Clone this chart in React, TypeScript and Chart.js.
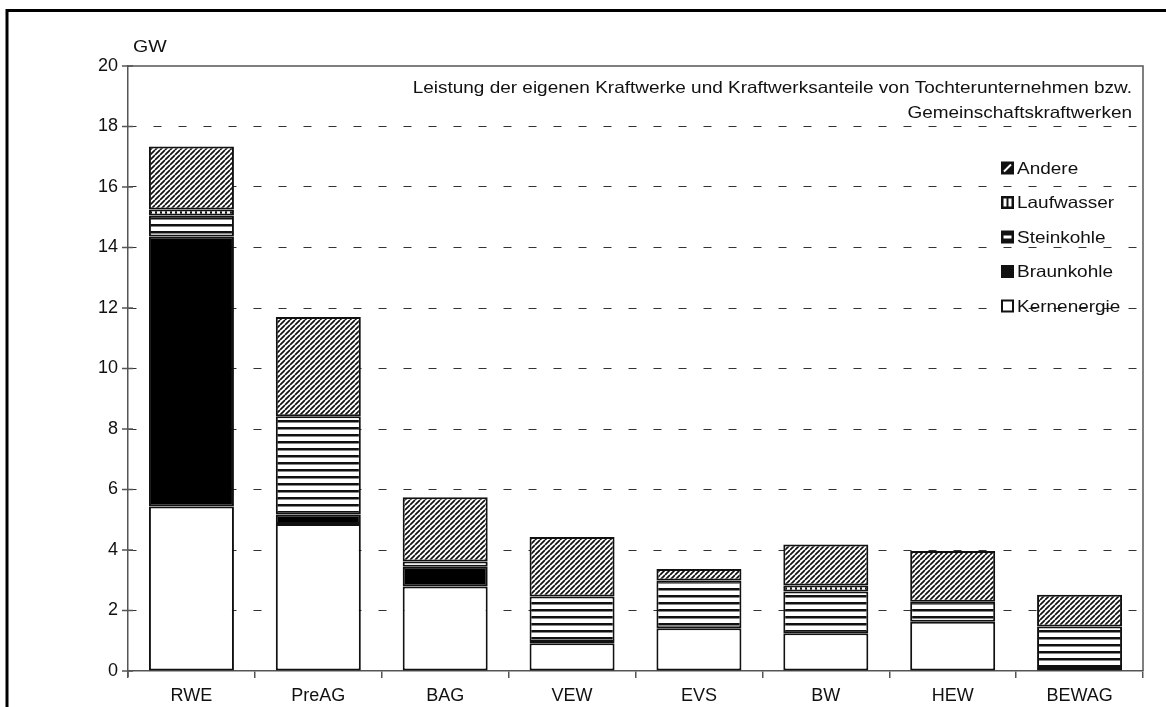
import React, { useEffect, useRef } from "react";
import { Chart, registerables } from "chart.js";

Chart.register(...registerables);

const categories = ["RWE", "PreAG", "BAG", "VEW", "EVS", "BW", "HEW", "BEWAG"];
const kernenergie = [5.44, 4.86, 2.79, 0.92, 1.41, 1.25, 1.63, 0];
const braunkohle = [8.92, 0.31, 0.66, 0.04, 0, 0, 0, 0.13];
const steinkohle = [0.7, 3.25, 0.17, 1.5, 1.58, 1.38, 0.66, 1.34];
const laufwasser = [0.2, 0, 0, 0, 0, 0.2, 0, 0];
const andere = [2.08, 3.28, 2.12, 1.97, 0.38, 1.35, 1.68, 1.05];
const yTickValues = [0, 2, 4, 6, 8, 10, 12, 14, 16, 18, 20];
const legendOrder = ["Andere", "Laufwasser", "Steinkohle", "Braunkohle", "Kernenergie"];
const titleLines = [
  "Leistung der eigenen Kraftwerke und Kraftwerksanteile von Tochterunternehmen bzw.",
  "Gemeinschaftskraftwerken",
];
const unitLabel = "GW";

const FONT = "'Liberation Sans', Arial, sans-serif";
const STRETCH = 1.15;

function makePattern(kind: string): CanvasPattern | string {
  const c = document.createElement("canvas");
  const ctx = c.getContext("2d")!;
  if (kind === "diag") {
    const s = 5;
    c.width = s; c.height = s;
    ctx.fillStyle = "#fff"; ctx.fillRect(0, 0, s, s);
    ctx.strokeStyle = "#111"; ctx.lineWidth = 1.7;
    ctx.beginPath();
    for (const off of [-s, 0, s]) { ctx.moveTo(off, s); ctx.lineTo(off + s, 0); }
    ctx.stroke();
  } else if (kind === "h") {
    c.width = 8; c.height = 7;
    ctx.fillStyle = "#fff"; ctx.fillRect(0, 0, 8, 7);
    ctx.fillStyle = "#111"; ctx.fillRect(0, 0, 8, 2.5);
  } else if (kind === "v") {
    c.width = 5; c.height = 8;
    ctx.fillStyle = "#fff"; ctx.fillRect(0, 0, 5, 8);
    ctx.fillStyle = "#111"; ctx.fillRect(0, 0, 2, 8);
  }
  return ctx.createPattern(c, "repeat")!;
}

function stretchedText(ctx: CanvasRenderingContext2D, text: string, x: number, y: number, align: "left" | "right") {
  ctx.save();
  ctx.translate(x, y);
  ctx.scale(STRETCH, 1);
  ctx.textAlign = align;
  ctx.fillText(text, 0, 0);
  ctx.restore();
}

export default function App() {
  const ref = useRef<HTMLCanvasElement | null>(null);

  useEffect(() => {
    const canvas = ref.current!;
    const diag = makePattern("diag");
    const hs = makePattern("h");
    const vs = makePattern("v");

    const decor = {
      id: "decor",
      beforeDraw(chart: any) {
        const ctx = chart.ctx;
        ctx.save();
        ctx.fillStyle = "#fff";
        ctx.fillRect(0, 0, chart.width, chart.height);
        ctx.restore();
      },
      afterDraw(chart: any) {
        const ctx = chart.ctx;
        const a = chart.chartArea;
        const y = chart.scales.y;
        ctx.save();
        // outer frame
        ctx.strokeStyle = "#000";
        ctx.lineWidth = 3;
        ctx.beginPath();
        ctx.moveTo(7, 707); ctx.lineTo(7, 10.5); ctx.lineTo(1166, 10.5);
        ctx.stroke();
        // plot box top + right
        ctx.strokeStyle = "#555";
        ctx.lineWidth = 1.5;
        ctx.beginPath();
        ctx.moveTo(a.left, a.top); ctx.lineTo(a.right, a.top); ctx.lineTo(a.right, a.bottom);
        ctx.stroke();
        // y ticks crossing axis
        ctx.beginPath();
        for (const v of yTickValues) {
          const py = y.getPixelForValue(v);
          ctx.moveTo(a.left - 6, py); ctx.lineTo(a.left + 5, py);
        }
        ctx.moveTo(a.left, a.bottom); ctx.lineTo(a.left, a.bottom + 6);
        ctx.stroke();
        // unit label
        ctx.fillStyle = "#111";
        ctx.textBaseline = "middle";
        ctx.font = `17px ${FONT}`;
        stretchedText(ctx, unitLabel, 133, 47, "left");
        // title
        ctx.font = `16.5px ${FONT}`;
        stretchedText(ctx, titleLines[0], 1132, 88, "right");
        stretchedText(ctx, titleLines[1], 1132, 113, "right");
        // legend
        ctx.font = `16.5px ${FONT}`;
        const bx = 1001, bs = 13;
        legendOrder.forEach((name, i) => {
          const cy = 168 + i * 34.5;
          const top = cy - bs / 2;
          ctx.lineWidth = 1.5;
          ctx.strokeStyle = "#111";
          if (name === "Andere") {
            ctx.fillStyle = "#111"; ctx.fillRect(bx, top, bs, bs);
            ctx.strokeStyle = "#fff"; ctx.lineWidth = 2;
            ctx.beginPath(); ctx.moveTo(bx + 3, top + bs - 3); ctx.lineTo(bx + bs - 3, top + 3); ctx.stroke();
          } else if (name === "Laufwasser") {
            ctx.fillStyle = "#111"; ctx.fillRect(bx, top, bs, bs);
            ctx.fillStyle = "#fff";
            ctx.fillRect(bx + 2.5, top + 2.5, 3, bs - 5);
            ctx.fillRect(bx + 7.5, top + 2.5, 3, bs - 5);
          } else if (name === "Steinkohle") {
            ctx.fillStyle = "#111"; ctx.fillRect(bx, top, bs, bs);
            ctx.fillStyle = "#fff";
            ctx.fillRect(bx + 2.5, top + 5, bs - 5, 3);
          } else if (name === "Braunkohle") {
            ctx.fillStyle = "#111"; ctx.fillRect(bx, top, bs, bs);
          } else {
            ctx.fillStyle = "#fff"; ctx.fillRect(bx, top, bs, bs);
            ctx.lineWidth = 2;
            ctx.strokeRect(bx + 1, top + 1, bs - 2, bs - 2);
          }
          ctx.fillStyle = "#111";
          stretchedText(ctx, name, bx + bs + 3, cy + 1, "left");
        });
        ctx.restore();
      },
    };

    const common = { borderColor: "#111", borderWidth: 2, borderSkipped: false as const };
    const chart = new Chart(canvas, {
      type: "bar",
      data: {
        labels: categories,
        datasets: [
          { label: "Kernenergie", data: kernenergie, backgroundColor: "#fff", ...common },
          { label: "Braunkohle", data: braunkohle, backgroundColor: "#000", ...common },
          { label: "Steinkohle", data: steinkohle, backgroundColor: hs as any, ...common },
          { label: "Laufwasser", data: laufwasser, backgroundColor: vs as any, ...common },
          { label: "Andere", data: andere, backgroundColor: diag as any, ...common },
        ],
      },
      options: {
        responsive: false,
        animation: false,
        layout: { padding: { left: 0, right: 23, top: 66, bottom: 0 } },
        datasets: { bar: { categoryPercentage: 1, barPercentage: 0.67 } },
        plugins: {
          legend: { display: false },
          title: { display: false },
          tooltip: { enabled: false },
        },
        scales: {
          x: {
            stacked: true,
            grid: { offset: true, drawOnChartArea: false, drawTicks: true, tickLength: 7, color: "#555", lineWidth: 1.5 },
            border: { color: "#555", width: 1.5 },
            ticks: { font: { family: FONT, size: 18 }, color: "#111", padding: 7 },
            afterFit: (s: any) => { s.height = 36; },
          },
          y: {
            stacked: true,
            min: 0,
            max: 20,
            afterBuildTicks: (s: any) => { s.ticks = yTickValues.map((v) => ({ value: v })); },
            ticks: { font: { family: FONT, size: 18 }, color: "#111", padding: 10 },
            grid: {
              drawTicks: false,
              lineWidth: 1,
              color: (c: any) => (c.tick && (c.tick.value === 0 || c.tick.value === 20) ? "rgba(0,0,0,0)" : "#333"),
            },
            border: { color: "#555", width: 1.5, dash: [8, 17] },
            afterFit: (s: any) => { s.width = 128; },
          },
        },
      },
      plugins: [decor],
    });
    return () => chart.destroy();
  }, []);

  return (
    <div style={{ position: "absolute", left: 0, top: 0, width: 1166, height: 707, background: "#fff" }}>
      <canvas ref={ref} width={1166} height={707} style={{ display: "block" }} />
    </div>
  );
}
